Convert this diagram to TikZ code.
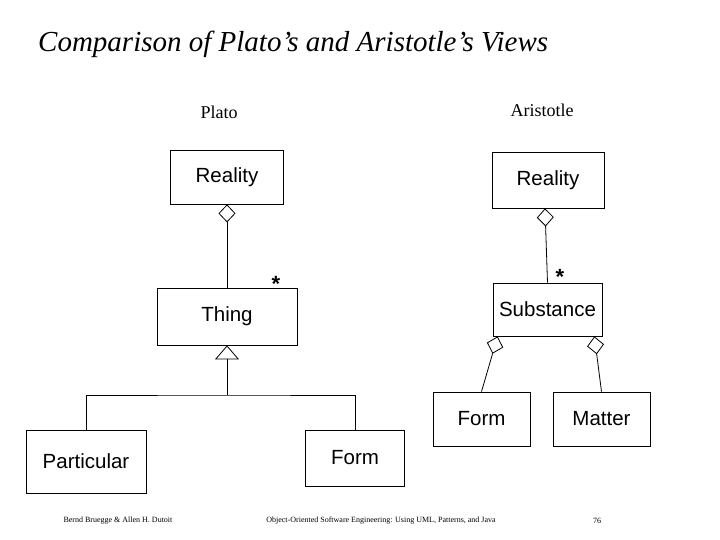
\documentclass[tikz,border=0pt]{standalone}
\usepackage{fontspec}
\setmainfont{Liberation Serif}
\newfontfamily\umlfont{Liberation Sans}
\usetikzlibrary{positioning,arrows.meta}
\tikzset{
  cls/.style={rectangle, draw=black, line width=0.8pt, inner sep=0pt, text centered, font=\umlfont\fontsize{20.5}{24}\selectfont},
  agg/.style={{Diamond[open,length=18pt,width=17pt]}-, line width=0.8pt},
  gen/.style={-{Triangle[open,length=14pt,width=24pt]}, line width=0.8pt},
  mult/.style={inner sep=0pt, font=\umlfont\bfseries\fontsize{22}{24}\selectfont},
  side/.style={font=\fontsize{18}{20}\selectfont},
  foot/.style={font=\fontsize{8}{9}\selectfont}
}
\begin{document}
\begin{tikzpicture}[x=1pt,y=-1pt]
	\useasboundingbox (0,0) rectangle (720,540);
	\node[anchor=west, inner sep=0pt, font=\itshape\fontsize{29}{32}\selectfont] (title) at (38,44) {Comparison of Plato's and Aristotle's Views};
	\node[side] (plato) at (219,112) {Plato};
	\node[side] (aristotle) at (542,110) {Aristotle};
	%
	\node[cls, minimum width=113pt, minimum height=54pt] (preal) at (227,177) {Reality};
	\node[cls, minimum width=140pt, minimum height=57pt] (pthing) at (227,316.5) {Thing};
	\node[cls, minimum width=120pt, minimum height=63pt] (ppart) at (86,461.5) {Particular};
	\node[cls, minimum width=99pt, minimum height=56pt] (pform) at (355,458) {Form};
	\node[mult] (pstar) at (276,284) {*};
	\coordinate (split) at (pthing.south |- 0,395);
	%
	\node[cls, minimum width=112pt, minimum height=56pt] (areal) at (548,180) {Reality};
	\node[cls, minimum width=109pt, minimum height=53pt] (asub) at (547.5,309.5) {Substance};
	\node[cls, minimum width=97pt, minimum height=54pt] (aform) at (481.5,419) {Form};
	\node[cls, minimum width=97pt, minimum height=54pt] (amatter) at (601.5,419) {Matter};
	\node[mult] (astar) at (560,277) {*};
	%
	\draw[agg] (preal.south) -- (pthing.north);
	\draw[gen] (split) -- (pthing.south);
	\draw[line width=0.8pt] (ppart.north) |- (split) -| (pform.north);
	%
	\draw[agg] ([xshift=-3pt]areal.south) -- (asub.north);
	\draw[agg] ([xshift=5pt]asub.south west) -- (aform.north);
	\draw[agg] ([xshift=-8pt]asub.south east) -- (amatter.north);
	%
	\node[foot] (authors) at (118,521) {Bernd Bruegge \& Allen H. Dutoit};
	\node[foot] (book) at (381,521) {Object-Oriented Software Engineering: Using UML, Patterns, and Java};
	\node[foot] (page) at (597,521) {76};
\end{tikzpicture}
\end{document}
